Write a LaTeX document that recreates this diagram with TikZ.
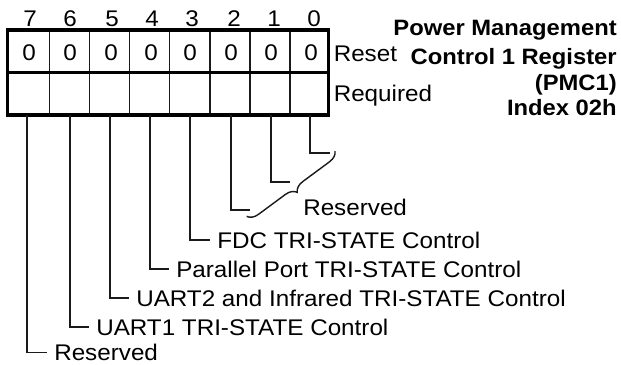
\documentclass[tikz,border=0pt]{standalone}
\usepackage{fontspec}
\setmainfont{Liberation Sans}[FakeStretch=1.07]
\usepackage{tikz}
\usetikzlibrary{decorations.pathreplacing}
\definecolor{RegInk}{HTML}{1A1A1A}
\tikzset{
  bitlabel/.style={anchor=west,inner xsep=0.175cm},
  bitline/.style={RegInk,line width=1pt},
  regframe/.style={line width=2.8pt}
}

\begin{document}
\begin{tikzpicture}[x=0.025cm,y=-0.025cm,inner sep=0pt,font=\fontsize{16.1}{20}\selectfont]
\path[use as bounding box] (0,0) rectangle (621,364);
\fill[white] (0,0) rectangle (621,364);
% bit numbers
\node (n7) at (30,19) {7};
\node (n6) at (70,19) {6};
\node (n5) at (112,19) {5};
\node (n4) at (152,19) {4};
\node (n3) at (192,19) {3};
\node (n2) at (234,19) {2};
\node (n1) at (274,19) {1};
\node (n0) at (314,19) {0};
% reset values
\node[anchor=base] (r7) at (29,60) {0};
\node[anchor=base] (r6) at (70,60) {0};
\node[anchor=base] (r5) at (111,60) {0};
\node[anchor=base] (r4) at (151,60) {0};
\node[anchor=base] (r3) at (190,60) {0};
\node[anchor=base] (r2) at (231,60) {0};
\node[anchor=base] (r1) at (271,60) {0};
\node[anchor=base] (r0) at (311,60) {0};
% register cells
\draw[bitline] (49.3,30) -- (49.3,115);
\draw[bitline] (89.4,30) -- (89.4,115);
\draw[bitline] (129.5,30) -- (129.5,115);
\draw[bitline] (169.6,30) -- (169.6,115);
\draw[bitline] (209.8,30) -- (209.8,115);
\draw[bitline] (249.9,30) -- (249.9,115);
\draw[bitline] (290,30) -- (290,115);
\draw[regframe] (7.5,30) rectangle (328.5,115);
\draw[regframe] (7.5,72.5) -- (328.5,72.5);
\node[anchor=base west] (reset) at (333.5,61.5) {Reset};
\node[anchor=base west] (req) at (333.5,101) {Required};
\node[anchor=north east,align=right,font=\fontsize{15.8}{18.1}\selectfont\bfseries] (title) at (617,19.5)
  {Power Management\\[0.11cm]Control 1 Register\\(PMC1)\\Index 02h};
% field lines
\coordinate (q7) at (27,115);
\coordinate (q6) at (70,115);
\coordinate (q5) at (110,115);
\coordinate (q4) at (150,115);
\coordinate (q3) at (190,115);
\coordinate (q2) at (231,115);
\coordinate (q1) at (271,115);
\coordinate (q0) at (310,115);
\coordinate (e0) at (330,153);
\coordinate (e1) at (290,182);
\coordinate (e2) at (250,210);
\node[bitlabel] (fdc) at (210,240) {FDC TRI-STATE Control};
\node[bitlabel] (ppt) at (169,269) {Parallel Port TRI-STATE Control};
\node[bitlabel] (uart2) at (129,298) {UART2 and Infrared TRI-STATE Control};
\node[bitlabel] (uart1) at (89,327) {UART1 TRI-STATE Control};
\node[bitlabel] (rsv7) at (47,352.5) {Reserved};
\node[bitlabel] (rsv) at (296,207.5) {Reserved};
\draw[bitline] (q0) |- (e0);
\draw[bitline] (q1) |- (e1);
\draw[bitline] (q2) |- (e2);
\draw[bitline] (q3) |- (fdc.west);
\draw[bitline] (q4) |- (ppt.west);
\draw[bitline] (q5) |- (uart2.west);
\draw[bitline] (q6) |- (uart1.west);
\draw[bitline] (q7) |- (rsv7.west);
\coordinate (bra) at (335,151);
\coordinate (brb) at (246.5,216.5);
\draw[bitline,decorate,decoration={brace,amplitude=0.27cm}] (bra) -- (brb);
\end{tikzpicture}
\end{document}
